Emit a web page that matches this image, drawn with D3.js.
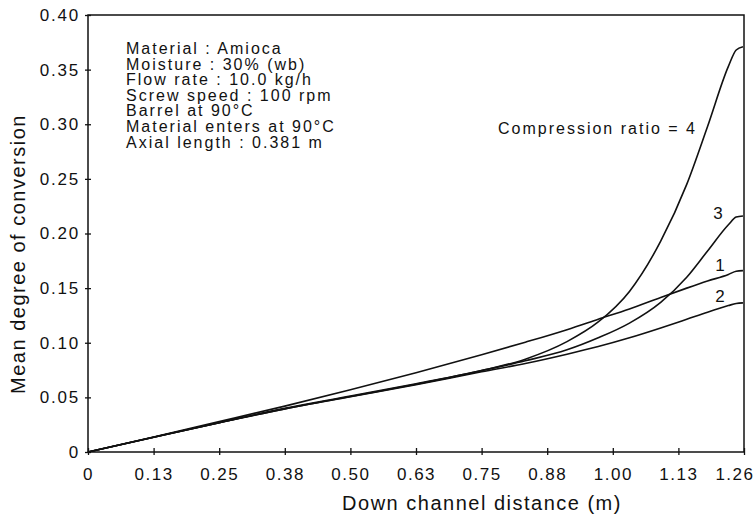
<!DOCTYPE html>
<html>
<head>
<meta charset="utf-8">
<script src="https://cdn.jsdelivr.net/npm/d3@7"></script>
<style>
  body { margin: 0; background: #fff; }
  svg { display: block; }
  text { font-family: "Liberation Sans", Arial, sans-serif; fill: #111; }
</style>
</head>
<body>
<svg id="chart" width="754" height="519"></svg>
<script>
// down channel distance (m), shared by all curves
var distance = [0, 0.126, 0.252, 0.378, 0.504, 0.630, 0.756, 0.84, 0.92, 0.98, 1.04, 1.10, 1.15, 1.19, 1.23, 1.245, 1.258];

// mean degree of conversion for each compression ratio
var ratio1 = [0, 0.0138, 0.0278, 0.0420, 0.0570, 0.0725, 0.0890, 0.1005, 0.1120, 0.1215, 0.1310, 0.1415, 0.1500, 0.1565, 0.1625, 0.1655, 0.1660];
var ratio2 = [0, 0.0135, 0.0268, 0.0395, 0.0505, 0.0615, 0.0735, 0.0810, 0.0895, 0.0965, 0.1045, 0.1135, 0.1215, 0.1280, 0.1340, 0.1360, 0.1365];
var ratio3 = [0, 0.0135, 0.0268, 0.0395, 0.0508, 0.0620, 0.0745, 0.0835, 0.0935, 0.1045, 0.1180, 0.1370, 0.1600, 0.1840, 0.2080, 0.2150, 0.2160];
var ratio4 = [0, 0.0135, 0.0268, 0.0400, 0.0512, 0.0625, 0.0745, 0.0850, 0.1010, 0.1190, 0.1470, 0.1930, 0.2450, 0.2980, 0.3530, 0.3680, 0.3710];

var xTickValues = [0, 0.126, 0.252, 0.378, 0.504, 0.630, 0.756, 0.882, 1.008, 1.134, 1.26];
var xTickLabels = ["0", "0.13", "0.25", "0.38", "0.50", "0.63", "0.75", "0.88", "1.00", "1.13", "1.26"];
var yTickValues = [0, 0.05, 0.10, 0.15, 0.20, 0.25, 0.30, 0.35, 0.40];
var yTickLabels = ["0", "0.05", "0.10", "0.15", "0.20", "0.25", "0.30", "0.35", "0.40"];

var notes = ["Material : Amioca", "Moisture : 30% (wb)", "Flow rate : 10.0 kg/h", "Screw speed : 100 rpm",
             "Barrel at 90\u00B0C", "Material enters at 90\u00B0C", "Axial length : 0.381 m"];

var svg = d3.select("#chart");
var plotL = 88, plotR = 744, plotT = 15, plotB = 452;

var x = d3.scaleLinear().domain([0, 1.26]).range([plotL, plotR]);
var y = d3.scaleLinear().domain([0, 0.40]).range([plotB, plotT]);

// frame
svg.append("rect")
  .attr("x", plotL).attr("y", plotT)
  .attr("width", plotR - plotL).attr("height", plotB - plotT)
  .attr("fill", "none").attr("stroke", "#111").attr("stroke-width", 1.5);

// x axis
var xAxis = svg.append("g")
  .attr("transform", "translate(0," + plotB + ")")
  .call(d3.axisBottom(x).tickValues(xTickValues)
    .tickFormat(function(d, i) { return xTickLabels[i]; })
    .tickSizeOuter(0).tickSize(3).tickPadding(13));
xAxis.select(".domain").remove();
xAxis.selectAll(".tick line").attr("y1", -4).attr("y2", 3).attr("stroke", "#111").attr("stroke-width", 1.3);
xAxis.selectAll(".tick text")
  .style("font-family", "'Liberation Sans', Arial, sans-serif")
  .style("font-size", "17px").style("letter-spacing", "1.5px").attr("fill", "#111");
// last label is pulled inside the window like in the print
xAxis.selectAll(".tick text").filter(function(d, i) { return i === xTickValues.length - 1; })
  .attr("text-anchor", "end").attr("dx", 10);

// y axis
var yAxis = svg.append("g")
  .attr("transform", "translate(" + plotL + ",0)")
  .call(d3.axisLeft(y).tickValues(yTickValues)
    .tickFormat(function(d, i) { return yTickLabels[i]; })
    .tickSizeOuter(0).tickSize(3).tickPadding(5));
yAxis.select(".domain").remove();
yAxis.selectAll(".tick line").attr("x1", 3).attr("x2", -3).attr("stroke", "#111").attr("stroke-width", 1.3);
yAxis.selectAll(".tick text")
  .style("font-family", "'Liberation Sans', Arial, sans-serif")
  .style("font-size", "17px").style("letter-spacing", "1.8px").attr("fill", "#111");

// axis titles
svg.append("text")
  .attr("x", 482).attr("y", 510)
  .attr("text-anchor", "middle")
  .style("font-size", "20px").style("letter-spacing", "1.5px")
  .text("Down channel distance (m)");

svg.append("text")
  .attr("transform", "translate(25,254) rotate(-90)")
  .attr("text-anchor", "middle")
  .style("font-size", "20px").style("letter-spacing", "1.5px")
  .text("Mean degree of conversion");

// curves
var line = d3.line()
  .x(function(d, i) { return x(distance[i]); })
  .y(function(d) { return y(d); })
  .curve(d3.curveMonotoneX);

[ratio1, ratio2, ratio3, ratio4].forEach(function(s) {
  svg.append("path")
    .attr("d", line(s))
    .attr("fill", "none")
    .attr("stroke", "#111")
    .attr("stroke-width", 1.6);
});

// condition notes
svg.append("g").selectAll("text")
  .data(notes).enter().append("text")
  .attr("x", 126)
  .attr("y", function(d, i) { return 54 + i * 15.6; })
  .style("font-size", "16px").style("letter-spacing", "2px")
  .text(function(d) { return d; });

// curve labels
svg.append("text").attr("x", 498).attr("y", 134)
  .style("font-size", "16px").style("letter-spacing", "2px")
  .text("Compression ratio = 4");

var curveLabels = [["3", 718, 219], ["1", 720, 271], ["2", 720, 302]];
svg.append("g").selectAll("text")
  .data(curveLabels).enter().append("text")
  .attr("x", function(d) { return d[1]; })
  .attr("y", function(d) { return d[2]; })
  .attr("text-anchor", "middle")
  .style("font-size", "17px")
  .text(function(d) { return d[0]; });
</script>
</body>
</html>
